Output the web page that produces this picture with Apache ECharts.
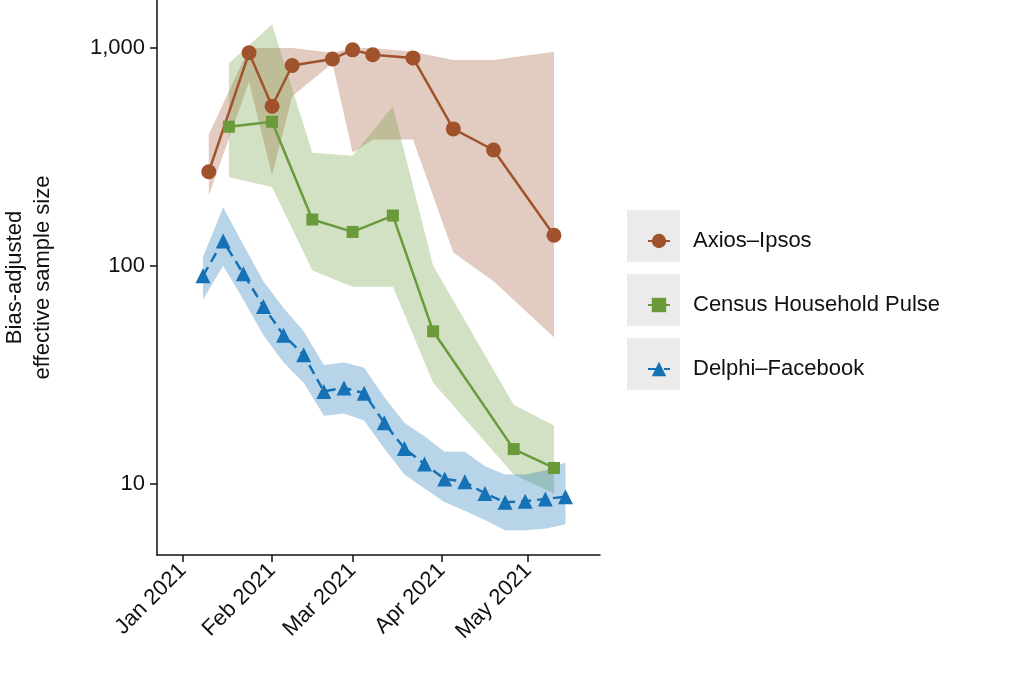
<!DOCTYPE html>
<html>
<head>
<meta charset="utf-8">
<script src="https://cdn.jsdelivr.net/npm/echarts@6/dist/echarts.min.js"></script>
<style>body{margin:0;background:#fff}#c{width:1023px;height:673px}</style>
</head>
<body>
<div id="c"></div>
<script>
// Axios–Ipsos
var axiosDates = ['2021-01-10','2021-01-24','2021-02-01','2021-02-08','2021-02-22','2021-03-01','2021-03-08','2021-03-22','2021-04-05','2021-04-19','2021-05-10'];
var axiosVals  = [270, 950, 540, 830, 890, 980, 930, 900, 425, 340, 138];
var axiosLow   = [210, 700, 260, 600, 850, 330, 380, 380, 115, 85, 47];
var axiosHigh  = [400, 1000, 1000, 1000, 950, 1000, 1000, 960, 880, 880, 960];
// Census Household Pulse
var censusDates = ['2021-01-17','2021-02-01','2021-02-15','2021-03-01','2021-03-15','2021-03-29','2021-04-26','2021-05-10'];
var censusVals  = [435, 458, 163, 143, 170, 50, 14.4, 11.8];
var censusLow   = [255, 230, 95, 80, 80, 29, 11, 9];
var censusHigh  = [850, 1280, 330, 320, 540, 100, 23, 18.5];
// Delphi–Facebook
var delphiDates = ['2021-01-08','2021-01-15','2021-01-22','2021-01-29','2021-02-05','2021-02-12','2021-02-19','2021-02-26','2021-03-05','2021-03-12','2021-03-19','2021-03-26','2021-04-02','2021-04-09','2021-04-16','2021-04-23','2021-04-30','2021-05-07','2021-05-14'];
var delphiVals  = [90, 130, 92, 65, 48, 39, 26.5, 27.5, 26, 19, 14.5, 12.3, 10.5, 10.2, 9, 8.2, 8.3, 8.5, 8.7];
var delphiLow   = [70, 100, 70, 48, 36, 29, 20.5, 21, 19.5, 14.5, 11, 9.5, 8.2, 7.5, 6.8, 6.1, 6.1, 6.2, 6.5];
var delphiHigh  = [110, 185, 125, 85, 64, 50, 35, 36, 34, 25, 19, 16.5, 14, 14, 12, 11, 11, 11.5, 12.5];

var monthTicks = ['2021-01-01','2021-02-01','2021-03-01','2021-04-01','2021-05-01'];
var monthLabels = ['Jan 2021','Feb 2021','Mar 2021','Apr 2021','May 2021'];
var yTicks = [10, 100, 1000];

var names = ['Axios\u2013Ipsos','Census Household Pulse','Delphi\u2013Facebook'];
var colors = ['#a0522d','#6a9a3a','#1572b6'];
var symbols = ['circle','rect','triangle'];

function ts(d){ return +new Date(d + 'T00:00:00Z'); }
function pts(dates, vals){ return dates.map(function(d,i){ return [ts(d), vals[i]]; }); }
var monthTs = monthTicks.map(ts);

function band(dates, low, high, color){
  var data = dates.map(function(d,i){ return [ts(d), low[i], high[i]]; });
  return {
    type: 'custom', silent: true, z: 1,
    renderItem: function(params, api){
      if (params.dataIndex !== 0) return;
      var up = [], dn = [];
      data.forEach(function(r){
        up.push(api.coord([r[0], r[2]]));
        dn.unshift(api.coord([r[0], r[1]]));
      });
      return {type:'polygon', shape:{points: up.concat(dn)}, style:{fill: color, opacity: 0.3}};
    },
    data: data
  };
}

function line(i, dates, vals, dashed){
  return {
    name: names[i], type: 'line', z: 3, data: pts(dates, vals),
    symbol: symbols[i], symbolSize: i === 1 ? 12 : 15,
    itemStyle: {color: colors[i]},
    lineStyle: {color: colors[i], width: 2.5, type: dashed ? [10,6] : 'solid'}
  };
}

var chart = echarts.init(document.getElementById('c'));
var legendText = {fontSize: 22, color: '#111', fontFamily: 'Liberation Sans, Arial'};
chart.setOption({
  animation: false,
  grid: {left: 150, right: 423, top: 0, bottom: 118},
  graphic: [0,1,2].map(function(k){
    return {type:'rect', left: 627, top: 210 + k*64, shape:{width: 53, height: 52}, style:{fill:'#ebebeb'}, z: -1};
  }),
  legend: [0,1,2].map(function(k){
    return {data:[names[k]], left: 642, top: 225 + k*64, itemWidth: 22, itemHeight: 18,
            itemGap: 0, textStyle: Object.assign({padding:[0,0,0,18]}, legendText)};
  }),
  xAxis: {
    type: 'value', min: ts('2020-12-23'), max: ts('2021-05-26'),
    axisLine: {lineStyle: {color: '#111', width: 1.5}},
    splitLine: {show: false},
    axisTick: {show: true, length: 7, customValues: monthTs, lineStyle:{color:'#111', width:1.5}},
    axisLabel: {
      customValues: monthTs, rotate: 45, fontSize: 22, color: '#111', margin: 12,
      fontFamily: 'Liberation Sans, Arial',
      formatter: function(v){ var i = monthTs.indexOf(v); return i >= 0 ? monthLabels[i] : ''; }
    }
  },
  yAxis: {
    type: 'log', logBase: 10, min: 4.7, max: 1660,
    name: 'Bias-adjusted\neffective sample size', nameLocation: 'middle', nameGap: 100,
    nameTextStyle: {fontSize: 22, color: '#111', lineHeight: 28, fontFamily: 'Liberation Sans, Arial'},
    axisLine: {show: true, lineStyle: {color: '#111', width: 1.5}},
    splitLine: {show: false},
    axisTick: {show: true, length: 7, customValues: yTicks, lineStyle:{color:'#111', width:1.5}},
    axisLabel: {customValues: yTicks, fontSize: 22, color: '#111', margin: 12, fontFamily: 'Liberation Sans, Arial',
      formatter: function(v){ return Math.round(v).toLocaleString('en-US'); }}
  },
  series: [
    band(axiosDates, axiosLow, axiosHigh, colors[0]),
    band(censusDates, censusLow, censusHigh, colors[1]),
    band(delphiDates, delphiLow, delphiHigh, colors[2]),
    line(0, axiosDates, axiosVals, false),
    line(1, censusDates, censusVals, false),
    line(2, delphiDates, delphiVals, true)
  ]
});
</script>
</body>
</html>
